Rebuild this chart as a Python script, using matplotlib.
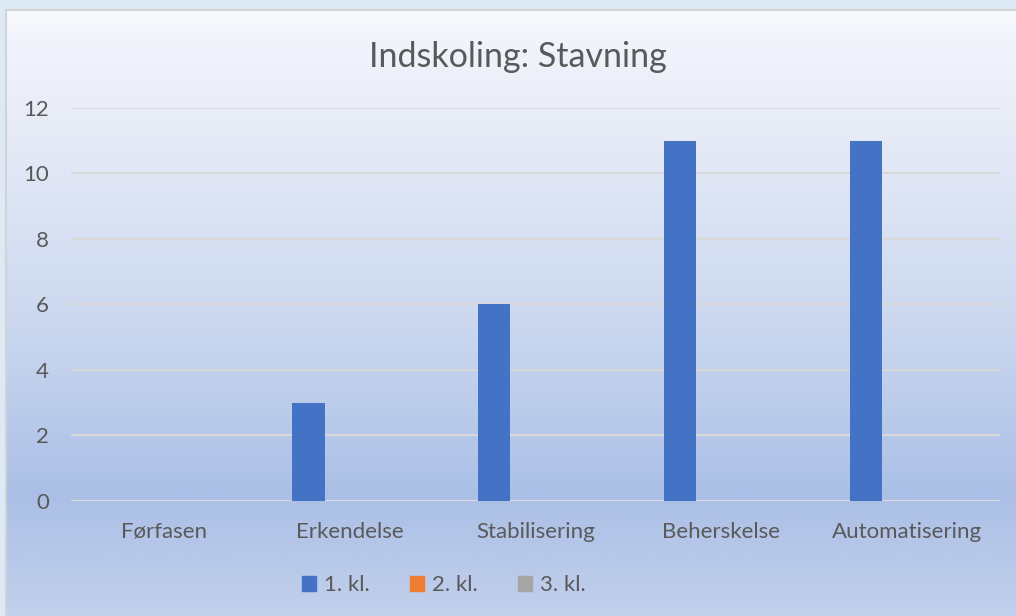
import numpy as np
import matplotlib
matplotlib.use("Agg")
import matplotlib.pyplot as plt
from matplotlib.colors import LinearSegmentedColormap
from matplotlib.patches import Patch, Rectangle

categories = ["Førfasen", "Erkendelse", "Stabilisering", "Beherskelse", "Automatisering"]
series_names = ["1. kl.", "2. kl.", "3. kl."]
kl1 = [0, 3, 6, 11, 11]
kl2 = [0, 0, 0, 0, 0]
kl3 = [0, 0, 0, 0, 0]
colors = ["#4472C4", "#ED7D31", "#A5A5A5"]
title = "Indskoling: Stavning"
yticks = [0, 2, 4, 6, 8, 10, 12]

W, H = 1016, 616
fig = plt.figure(figsize=(W / 100, H / 100), dpi=100)
fig.patch.set_facecolor("#dde9f5")

FONT = "Lato"
TXT = "#595959"

# gradient background of chart area
bg = fig.add_axes([7 / W, 0, 1 - 7 / W, 1 - 10 / H], zorder=0)
stops = [
    (0.00, (248, 249, 252)),
    (0.05, (241, 244, 252)),
    (0.18, (232, 236, 247)),
    (0.50, (205, 217, 240)),
    (0.80, (171, 191, 230)),
    (1.00, (194, 208, 236)),
]
cmap = LinearSegmentedColormap.from_list(
    "g", [(p, tuple(c / 255 for c in rgb)) for p, rgb in stops])
grad = np.linspace(0, 1, 512).reshape(-1, 1)
bg.imshow(grad, aspect="auto", cmap=cmap, extent=[0, 1, 1, 0])
bg.set_xlim(0, 1)
bg.set_ylim(1, 0)
bg.axis("off")
fig.add_artist(Rectangle((6 / W, -0.01), 1.2, 1 - 9.5 / H + 0.01, transform=fig.transFigure,
                         fill=False, edgecolor="#d3d3d3", linewidth=1.5, zorder=1))

# plot axes: x 71..1000, y 108(12)..500.7(0)
left, right = 71, 1000
top, bottom = 108, 500.7
ax = fig.add_axes([left / W, 1 - bottom / H, (right - left) / W, (bottom - top) / H], zorder=2)
ax.patch.set_alpha(0)

x = np.arange(len(categories))
bw = 0.174
off = 0.222
for i, (vals, c, name) in enumerate(zip([kl1, kl2, kl3], colors, series_names)):
    ax.bar(x + (i - 1) * off, vals, width=bw, color=c, label=name, zorder=3,
           edgecolor=c, linewidth=0)

ax.set_xlim(-0.5, len(categories) - 0.5)
ax.set_ylim(0, 12)
ax.set_yticks(yticks)
ax.set_yticklabels([str(t) for t in yticks], fontsize=16, color=TXT, family=FONT)
ax.set_xticks(x)
ax.set_xticklabels(categories, fontsize=16, color=TXT, family=FONT)
ax.tick_params(axis="y", length=0, pad=16)
ax.tick_params(axis="x", length=0, pad=15)
ax.grid(axis="y", color="#d9d9d9", linewidth=1.5, zorder=1)
ax.set_axisbelow(True)
for s in ax.spines.values():
    s.set_visible(False)

fig.text(518 / W, 1 - 57 / H, title, ha="center", va="center", fontsize=24.5,
         color=TXT, family=FONT)

handles = [Patch(facecolor=c, edgecolor=c) for c in colors]
leg = fig.legend(handles, series_names, loc="center", bbox_to_anchor=(444 / W, 1 - 585 / H),
                 ncol=3, frameon=False, prop={"family": FONT, "size": 16},
                 handlelength=0.65, handleheight=0.65, handletextpad=0.35, columnspacing=1.8)
for t in leg.get_texts():
    t.set_color(TXT)

fig.savefig("out.png", dpi=100)
